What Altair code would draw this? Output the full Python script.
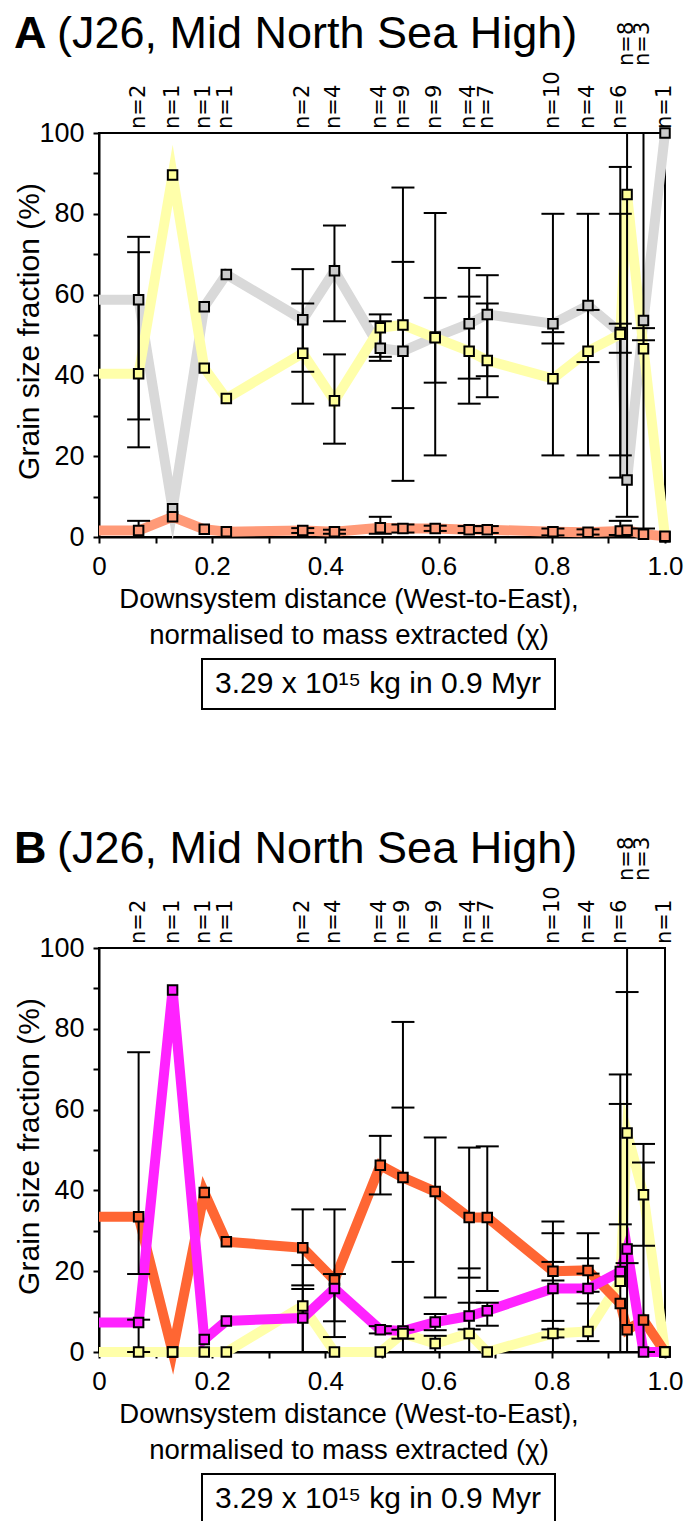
import altair as alt
import pandas as pd

# ---------------- data ----------------
x_pos = [0.07, 0.13, 0.186, 0.225, 0.36, 0.416, 0.497, 0.537, 0.594, 0.654,
         0.686, 0.802, 0.864, 0.921, 0.933, 0.962, 1.0]
n_counts = [2, 1, 1, 1, 2, 4, 4, 9, 9, 4, 7, 10, 4, 6, 8, 3, 1]

# Panel A
a_grey = [58.7, 7.0, 57.0, 65.0, 53.8, 65.9, 46.7, 46.0, 49.5, 52.8,
          55.1, 52.8, 57.3, 50.6, 14.1, 53.6, 100.0]
a_yellow = [40.4, 89.6, 41.8, 34.3, 45.5, 33.7, 51.8, 52.5, 49.3, 46.0,
            43.7, 39.2, 46.0, 50.2, 84.8, 46.6, 0.0]
a_salmon = [1.6, 5.0, 1.9, 1.3, 1.6, 1.3, 2.3, 2.1, 2.1, 1.8,
            1.8, 1.3, 1.2, 1.5, 1.7, 0.7, 0.2]

# Panel B
b_orange = [33.5, 0.0, 39.5, 27.3, 25.8, 17.8, 46.2, 43.2, 39.7, 33.3,
            33.3, 20.0, 20.2, 12.0, 5.5, 7.9, 0.0]
b_magenta = [7.3, 89.6, 3.1, 7.7, 8.4, 15.7, 5.5, 5.2, 7.4, 8.9,
             10.2, 15.7, 15.7, 19.9, 25.5, 0.0, 0.0]
b_yellow = [0.0, 0.0, 0.0, 0.0, 11.4, 0.0, 0.0, 4.6, 2.1, 4.6,
            0.0, 4.6, 5.1, 17.5, 54.2, 38.9, 0.0]

# error bars (x, low, high)
a_err_x = [0.07, 0.07, 0.07, 0.36, 0.36, 0.36, 0.416, 0.416, 0.416,
           0.497, 0.497, 0.497, 0.537, 0.537, 0.537, 0.594, 0.594, 0.594,
           0.654, 0.654, 0.654, 0.686, 0.686, 0.686, 0.802, 0.802, 0.802,
           0.864, 0.864, 0.864, 0.921, 0.921, 0.921, 0.921, 0.933,
           0.962, 0.962]
a_err_lo = [29.1, 22.2, 0.0, 40.9, 33.0, 1.0, 53.4, 23.1, 0.8,
            43.6, 44.6, 0.8, 13.9, 31.9, 1.1, 38.2, 20.2, 1.5,
            39.2, 33.0, 1.0, 39.8, 34.6, 1.0, 20.2, 47.9, 0.4,
            20.2, 43.3, 0.6, 14.7, 20.2, 45.6, 0.5, 5.0,
            2.1, 48.7]
a_err_hi = [74.3, 70.5, 4.0, 66.3, 57.8, 2.2, 77.1, 45.2, 1.8,
            53.4, 55.1, 5.0, 68.1, 86.5, 3.1, 59.2, 80.2, 2.8,
            66.6, 59.5, 2.7, 64.8, 57.8, 2.7, 80.0, 50.7, 2.1,
            80.0, 56.2, 1.9, 91.6, 80.0, 52.8, 4.0, 100.0,
            100.0, 51.7]

b_err_x = [0.07, 0.07, 0.36, 0.36, 0.36, 0.416, 0.416, 0.497, 0.497,
           0.537, 0.537, 0.537, 0.594, 0.594, 0.594, 0.654, 0.654, 0.654,
           0.686, 0.686, 0.802, 0.802, 0.802, 0.802, 0.864, 0.864, 0.864,
           0.921, 0.921, 0.933, 0.933, 0.962, 0.962]
b_err_lo = [19.3, 0.0, 16.5, 0.0, 0.0, 7.6, 3.7, 39.0, 4.6,
            3.3, 22.3, 0.0, 13.5, 5.4, 0.0, 18.4, 0.0, 5.6,
            15.1, 6.5, 0.0, 7.7, 17.7, 3.6, 2.7, 14.9, 12.0,
            0.0, 31.6, 0.0, 22.0, 0.0, 26.3]
b_err_hi = [74.2, 8.0, 35.3, 21.5, 15.6, 35.3, 19.3, 53.5, 6.4,
            81.7, 60.5, 5.5, 53.1, 9.4, 4.0, 50.6, 20.7, 12.2,
            50.9, 12.2, 29.4, 32.3, 22.3, 5.6, 29.4, 23.2, 19.4,
            68.7, 61.4, 100.0, 89.1, 46.9, 51.5]

title_rest = "(J26, Mid North Sea High)"
x_title_lines = ["Downsystem distance (West-to-East),",
                 "normalised to mass extracted (\u03c7)"]
y_title = "Grain size fraction (%)"
box_text = "3.29 x 10\u00b9\u2075 kg in 0.9 Myr"

# ---------------- chart construction ----------------
W, H = 566, 404
FONT = "Liberation Sans"

xs = alt.Scale(domain=[0, 1], nice=False, zero=False)
ys = alt.Scale(domain=[0, 100], nice=False)

x_axis = alt.Axis(
    values=[round(i * 0.1, 1) for i in range(11)],
    labelExpr="datum.value == 0 ? '0' : (round(datum.value * 10) % 2 == 0 ? format(datum.value, '.1f') : '')",
    title=None, grid=False, labelFontSize=26, labelPadding=10,
    tickSize=6, tickWidth=2, tickColor="black", domainColor="black",
    domainWidth=2, labelColor="black", labelFlush=False, labelOverlap=False,
    labelFont=FONT,
)
y_axis = alt.Axis(
    values=list(range(0, 101, 10)),
    labelExpr="round(datum.value) % 20 == 0 ? datum.label : ''",
    title=y_title, titleFontSize=30, titleFontWeight="normal", titleColor="black",
    titleX=-70, titleY=198, titleAlign="center", titleBaseline="middle", titleAngle=270,
    titleFont=FONT,
    grid=False, labelFontSize=27, labelPadding=9, tickSize=6, tickWidth=2,
    tickColor="black", domainColor="black", domainWidth=2, labelColor="black",
    labelFont=FONT, labelOverlap=False,
)


def n_rows():
    rows = []
    prev = None
    for xv in x_pos:
        rows.append(1 if (prev is not None and xv - prev < 0.03) else 0)
        prev = xv
    return rows


def panel(letter, line_series, marker_series, ex, elo, ehi):
    layers = []
    one = pd.DataFrame({"k": [0]})
    # lines (with lead-in from the axis at the first value)
    for vals, lc in line_series:
        df = pd.DataFrame({"x": [0.0] + x_pos, "v": [vals[0]] + vals})
        layers.append(
            alt.Chart(df).mark_line(color=lc, strokeWidth=10, strokeJoin="miter",
                                    strokeMiterLimit=10, strokeCap="butt")
            .encode(x=alt.X("x:Q", scale=xs, axis=x_axis),
                    y=alt.Y("v:Q", scale=ys, axis=y_axis))
        )
    # error bars
    edf = pd.DataFrame({"x": ex, "lo": elo, "hi": ehi})
    layers.append(
        alt.Chart(edf).mark_rule(color="black", strokeWidth=2)
        .encode(x=alt.X("x:Q", scale=xs, axis=x_axis),
                y=alt.Y("lo:Q", scale=ys, axis=y_axis), y2=alt.Y2("hi"))
    )
    layers.append(
        alt.Chart(edf).transform_fold(["lo", "hi"], as_=["end", "v"])
        .mark_rule(color="black", strokeWidth=2, xOffset=-11.5, x2Offset=11.5)
        .encode(x=alt.X("x:Q", scale=xs, axis=x_axis), x2=alt.X2("x"),
                y=alt.Y("v:Q", scale=ys, axis=y_axis))
    )
    # markers
    for vals, mc in marker_series:
        df = pd.DataFrame({"x": x_pos, "v": vals})
        layers.append(
            alt.Chart(df).mark_square(size=90, color=mc, opacity=1, stroke="black",
                                      strokeWidth=2)
            .encode(x=alt.X("x:Q", scale=xs, axis=x_axis),
                    y=alt.Y("v:Q", scale=ys, axis=y_axis))
        )
    # n labels above the plot
    ndf = pd.DataFrame({"x": x_pos, "t": ["n=%d" % n for n in n_counts], "row": n_rows()})
    for r, yv in [(0, -4), (1, -67)]:
        layers.append(
            alt.Chart(ndf).transform_filter(alt.datum.row == r)
            .mark_text(angle=270, align="left", baseline="middle", fontSize=21,
                       font="DejaVu Sans", color="black")
            .encode(x=alt.X("x:Q", scale=xs, axis=x_axis), y=alt.value(yv), text="t:N")
        )
    # panel title
    layers.append(
        alt.Chart(pd.DataFrame({"t": [letter]})).mark_text(
            align="left", baseline="alphabetic", fontSize=45, fontWeight="bold",
            font=FONT, color="black")
        .encode(x=alt.value(-85), y=alt.value(-85), text="t:N")
    )
    layers.append(
        alt.Chart(pd.DataFrame({"t": [title_rest]})).mark_text(
            align="left", baseline="alphabetic", fontSize=45, font=FONT, color="black")
        .encode(x=alt.value(-42), y=alt.value(-85), text="t:N")
    )
    # x axis title (two lines)
    for i, line in enumerate(x_title_lines):
        layers.append(
            alt.Chart(pd.DataFrame({"t": [line]})).mark_text(
                align="center", baseline="alphabetic", fontSize=27.5, font=FONT,
                color="black")
            .encode(x=alt.value(250), y=alt.value(475 + 36 * i), text="t:N")
        )
    # boxed annotation
    layers.append(
        alt.Chart(one).mark_rect(fill="white", stroke="black", strokeWidth=2)
        .encode(x=alt.value(103), x2=alt.value(456), y=alt.value(526), y2=alt.value(576))
    )
    layers.append(
        alt.Chart(pd.DataFrame({"t": [box_text]})).mark_text(
            align="center", baseline="alphabetic", fontSize=30, font=FONT, color="black")
        .encode(x=alt.value(279), y=alt.value(560), text="t:N")
    )
    return alt.layer(*layers).properties(width=W, height=H)


pa = panel("A",
           [(a_grey, "#D9D9D9"), (a_yellow, "#FFFFAA"), (a_salmon, "#FF9A78")],
           [(a_grey, "#CCCCCC"), (a_yellow, "#FFFF99"), (a_salmon, "#FF9A78")],
           a_err_x, a_err_lo, a_err_hi)
pb = panel("B",
           [(b_yellow, "#FFFFAA"), (b_orange, "#FF6633"), (b_magenta, "#FF22FF")],
           [(b_orange, "#FF6633"), (b_magenta, "#FF22FF"), (b_yellow, "#FFFF99")],
           b_err_x, b_err_lo, b_err_hi)

chart = (
    alt.vconcat(pa, pb, spacing=115)
    .properties(padding={"left": 12, "top": 11, "right": -30, "bottom": -4})
    .configure(font=FONT)
    .configure_view(stroke="black", strokeWidth=2)
)

chart.save("out.html", embed_options={"renderer": "svg", "actions": False})
